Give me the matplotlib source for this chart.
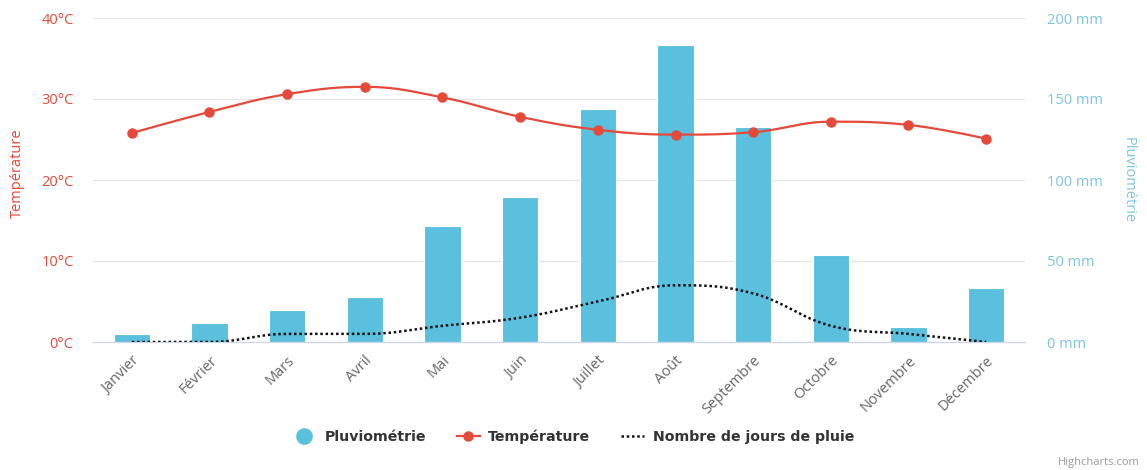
import numpy as np
from matplotlib import pyplot as plt
from matplotlib.lines import Line2D

plt.rcParams['font.family'] = ['Open Sans', 'DejaVu Sans']

months = ['Janvier', 'Février', 'Mars', 'Avril', 'Mai', 'Juin', 'Juillet',
          'Août', 'Septembre', 'Octobre', 'Novembre', 'Décembre']
rain_mm = [5, 11.5, 20, 28, 71.5, 89.5, 144, 183.5, 132.5, 54, 9.5, 33.5]
temp_c = [25.8, 28.4, 30.6, 31.5, 30.2, 27.8, 26.2, 25.6, 25.9, 27.2, 26.8, 25.1]
rain_days = [0, 0, 1, 1, 2, 3, 5, 7, 6, 2, 1, 0]

temp_ticks = [0, 10, 20, 30, 40]
rain_ticks = [0, 50, 100, 150, 200]

BLUE = '#5bc0de'
RED = '#e4493a'
GRID = '#e6e6e6'


def spline(xs, ys, n=30):
    # highcharts-like spline (smoothing 1.5, clamped at local extremes)
    xs = np.asarray(xs, float)
    ys = np.asarray(ys, float)
    sm, den = 1.5, 2.5
    k = len(xs)
    lc = [(x, y) for x, y in zip(xs, ys)]
    rc = [(x, y) for x, y in zip(xs, ys)]
    for i in range(1, k - 1):
        px, py = xs[i], ys[i]
        lx, ly = xs[i - 1], ys[i - 1]
        nx, ny = xs[i + 1], ys[i + 1]
        lcx = (sm * px + lx) / den
        lcy = (sm * py + ly) / den
        rcx = (sm * px + nx) / den
        rcy = (sm * py + ny) / den
        corr = (rcy - lcy) * (rcx - px) / (rcx - lcx) + py - rcy
        lcy += corr
        rcy += corr
        if lcy > ly and lcy > py:
            lcy = max(ly, py)
            rcy = 2 * py - lcy
        elif lcy < ly and lcy < py:
            lcy = min(ly, py)
            rcy = 2 * py - lcy
        if rcy > ny and rcy > py:
            rcy = max(ny, py)
            lcy = 2 * py - rcy
        elif rcy < ny and rcy < py:
            rcy = min(ny, py)
            lcy = 2 * py - rcy
        lc[i] = (lcx, lcy)
        rc[i] = (rcx, rcy)
    t = np.linspace(0, 1, n)[:, None]
    out = []
    for i in range(1, k):
        p0 = np.array([xs[i - 1], ys[i - 1]])
        p1 = np.array(rc[i - 1])
        p2 = np.array(lc[i])
        p3 = np.array([xs[i], ys[i]])
        seg = ((1 - t) ** 3) * p0 + 3 * ((1 - t) ** 2) * t * p1 + 3 * (1 - t) * t ** 2 * p2 + t ** 3 * p3
        out.append(seg if i == 1 else seg[1:])
    out = np.vstack(out)
    return out[:, 0], out[:, 1]


fig = plt.figure(figsize=(11.47, 4.70), dpi=100)
W, H = 1147, 470
ax_r = fig.add_axes([93 / W, (H - 342) / H, (1025 - 93) / W, (342 - 18) / H])
ax_t = ax_r.twinx()

x = np.arange(len(months))

# rain bars (right axis)
ax_r.bar(x, rain_mm, width=0.47, color=BLUE, edgecolor='white', linewidth=0.8, zorder=2)
ax_r.set_ylim(0, 200)
ax_r.set_xlim(-0.5, len(months) - 0.5)
ax_r.set_yticks(rain_ticks)
ax_r.set_yticklabels([f'{v} mm' for v in rain_ticks])
ax_r.yaxis.tick_right()
ax_r.yaxis.set_label_position('right')
ax_r.tick_params(axis='y', length=0, pad=16, labelsize=10.5, labelcolor='#7cc6e0')
ax_r.set_ylabel('Pluviométrie', color='#7cc6e0', rotation=270, va='center', fontsize=10.5)
ax_r.yaxis.set_label_coords((1128 - 93) / 932, 0.5)
ax_r.grid(axis='y', color=GRID, linewidth=1, zorder=0)
ax_r.set_axisbelow(True)

# temperature and rainy days (left axis)
sx, sy = spline(x, temp_c)
ax_t.plot(sx, sy, color=RED, linewidth=1.6, zorder=3)
ax_t.plot(x, temp_c, 'o', color=RED, markersize=6.5, zorder=4)
dx, dy = spline(x, rain_days)
ax_t.plot(dx, dy, color='#111111', linewidth=1.8, linestyle=(0, (1, 1.1)), zorder=3)
ax_t.set_ylim(0, 40)
ax_t.set_yticks(temp_ticks)
ax_t.set_yticklabels([f'{v}°C' for v in temp_ticks])
ax_t.yaxis.tick_left()
ax_t.yaxis.set_label_position('left')
ax_t.tick_params(axis='y', length=0, pad=14, labelsize=10.5, labelcolor=RED)
ax_t.set_ylabel('Température', color=RED, va='center', fontsize=10.5)
ax_t.yaxis.set_label_coords((17 - 93) / 932, 0.52)

for a in (ax_r, ax_t):
    for s in ('top', 'left', 'right'):
        a.spines[s].set_visible(False)
    a.spines['bottom'].set_color('#ccd6eb')

ax_r.set_xticks(x)
ax_r.set_xticklabels(months, rotation=45, ha='right', rotation_mode='anchor',
                     fontsize=10.5, color='#666666')
ax_r.tick_params(axis='x', length=0, pad=8)

handles = [
    Line2D([], [], marker='o', color='none', markerfacecolor=BLUE, markeredgecolor=BLUE, markersize=11),
    Line2D([], [], color=RED, linewidth=1.6, marker='o', markersize=6.5),
    Line2D([], [], color='#111111', linewidth=1.8, linestyle=(0, (1, 1.1))),
]
labels = ['Pluviométrie', 'Température', 'Nombre de jours de pluie']
fig.legend(handles, labels, loc='center', bbox_to_anchor=(0.5, (H - 437) / H), ncol=3,
           frameon=False, prop={'family': 'DejaVu Sans', 'weight': 'bold', 'size': 10.2},
           labelcolor='#333333', handlelength=1.6, columnspacing=2.2, handletextpad=0.6)

fig.text(1140 / W, (H - 462) / H, 'Highcharts.com', ha='right', va='center',
         fontsize=8, color='#999999')

fig.savefig('out.png', dpi=100)
